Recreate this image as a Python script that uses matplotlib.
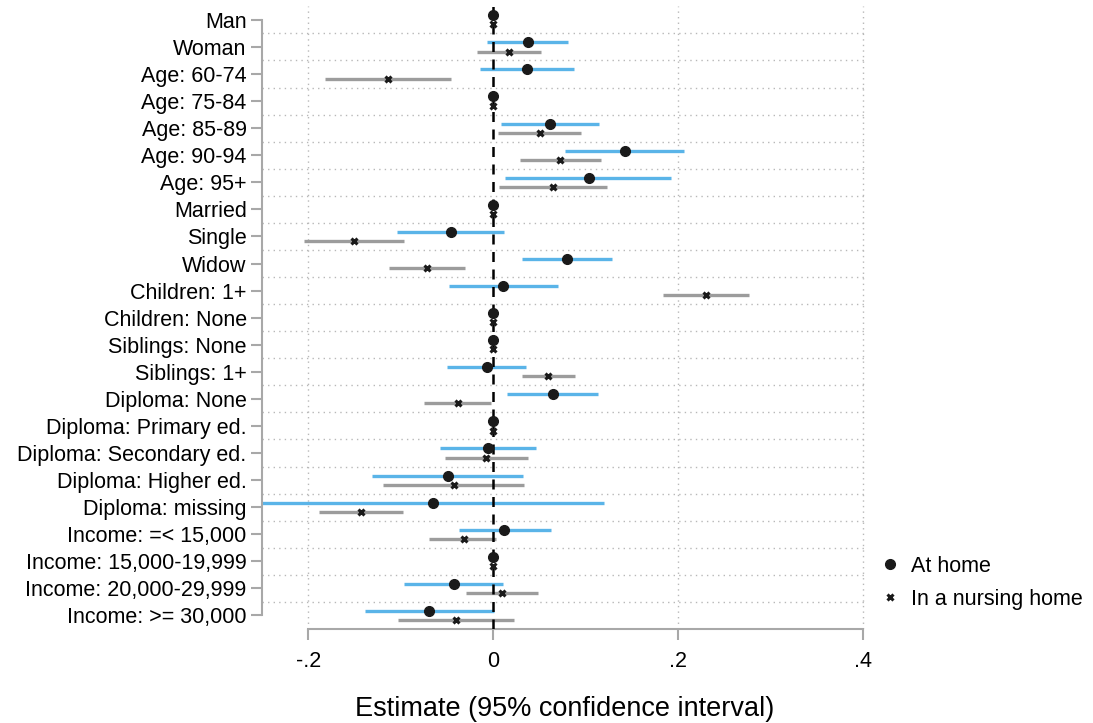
import numpy as np
import matplotlib
matplotlib.use('Agg')
import matplotlib.pyplot as plt
from matplotlib.lines import Line2D

plt.rcParams['font.family'] = ['Liberation Sans', 'DejaVu Sans']

categories = ['Man', 'Woman', 'Age: 60-74', 'Age: 75-84', 'Age: 85-89', 'Age: 90-94',
              'Age: 95+', 'Married', 'Single', 'Widow', 'Children: 1+', 'Children: None',
              'Siblings: None', 'Siblings: 1+', 'Diploma: None', 'Diploma: Primary ed.',
              'Diploma: Secondary ed.', 'Diploma: Higher ed.', 'Diploma: missing',
              'Income: =< 15,000', 'Income: 15,000-19,999', 'Income: 20,000-29,999',
              'Income: >= 30,000']

# At home: estimate and 95% CI
home_est = [0, 0.037, 0.036, 0, 0.061, 0.142, 0.103, 0, -0.046, 0.080, 0.011, 0,
            0, -0.007, 0.065, 0, -0.006, -0.049, -0.065, 0.012, 0, -0.043, -0.069]
home_lo = [0, -0.007, -0.014, 0, 0.008, 0.078, 0.013, 0, -0.104, 0.031, -0.048, 0,
           0, -0.050, 0.015, 0, -0.058, -0.131, -0.250, -0.037, 0, -0.097, -0.139]
home_hi = [0, 0.081, 0.087, 0, 0.114, 0.206, 0.192, 0, 0.012, 0.128, 0.070, 0,
           0, 0.035, 0.113, 0, 0.046, 0.032, 0.120, 0.062, 0, 0.010, 0.001]

# In a nursing home: estimate and 95% CI
nh_est = [0, 0.017, -0.114, 0, 0.050, 0.072, 0.065, 0, -0.151, -0.072, 0.230, 0,
          0, 0.059, -0.038, 0, -0.008, -0.043, -0.143, -0.032, 0, 0.009, -0.040]
nh_lo = [0, -0.018, -0.182, 0, 0.005, 0.029, 0.006, 0, -0.205, -0.113, 0.183, 0,
         0, 0.031, -0.075, 0, -0.052, -0.119, -0.188, -0.069, 0, -0.030, -0.103]
nh_hi = [0, 0.052, -0.046, 0, 0.095, 0.116, 0.123, 0, -0.097, -0.031, 0.276, 0,
         0, 0.088, -0.002, 0, 0.037, 0.033, -0.098, 0.003, 0, 0.048, 0.022]

xticks = [-0.2, 0, 0.2, 0.4]
xticklabels = ['-.2', '0', '.2', '.4']

blue = '#5ab4e8'
grey = '#9c9c9c'
dark = '#1a1a1a'
axcol = '#a8a8a8'

fig = plt.figure(figsize=(10.93, 7.23), dpi=100)
ax = fig.add_axes([0.2397, 0.130, 0.5545, 0.862])

n = len(categories)
y = np.arange(n)
off = 0.17

# grid lines
for g in y[:-1] + 0.5:
    ax.axhline(g, color='#b8b8b8', lw=1, ls=(0, (1, 3)), zorder=1)
for xv in [-0.2, 0.2, 0.4]:
    ax.axvline(xv, color='#b8b8b8', lw=1, ls=(0, (1, 3)), zorder=1)

ax.hlines(y - off, home_lo, home_hi, color=blue, lw=2.4, zorder=2)
ax.hlines(y + off, nh_lo, nh_hi, color=grey, lw=2.4, zorder=2)
ax.axvline(0, color='black', lw=1.8, ls=(0, (4, 3)), zorder=3)
ax.plot(home_est, y - off, 'o', color=dark, ms=7, zorder=4, ls='none')
ax.plot(nh_est, y + off, 'x', color=dark, ms=5, mew=2.2, zorder=4, ls='none')

ax.set_xlim(-0.25, 0.405)
ax.set_ylim(22.5, -0.52)
ax.set_yticks(y)
ax.set_yticklabels(categories, fontsize=15.5)
ax.set_xticks(xticks)
ax.set_xticklabels(xticklabels, fontsize=15.5)
ax.set_xlabel('Estimate (95% confidence interval)', fontsize=19.5, labelpad=17)

for s in ['top', 'right']:
    ax.spines[s].set_visible(False)
for s in ['left', 'bottom']:
    ax.spines[s].set_color(axcol)
    ax.spines[s].set_linewidth(1.5)
ax.spines['left'].set_bounds(0, n - 1)
ax.spines['bottom'].set_bounds(-0.2, 0.4)
ax.tick_params(axis='both', colors=axcol, labelcolor='black', length=8, width=1.5)
ax.tick_params(axis='y', pad=3)
ax.tick_params(axis='x', pad=8)

handles = [Line2D([], [], marker='o', color=dark, ls='none', ms=7),
           Line2D([], [], marker='x', color=dark, ls='none', ms=5, mew=2.2)]
fig.legend(handles, ['At home', 'In a nursing home'], loc='center left',
           bbox_to_anchor=(0.793, 0.194), frameon=False, fontsize=15.5,
           handlelength=1.2, handletextpad=0.37, borderpad=0, labelspacing=0.55)

fig.savefig('out.png', dpi=100)
